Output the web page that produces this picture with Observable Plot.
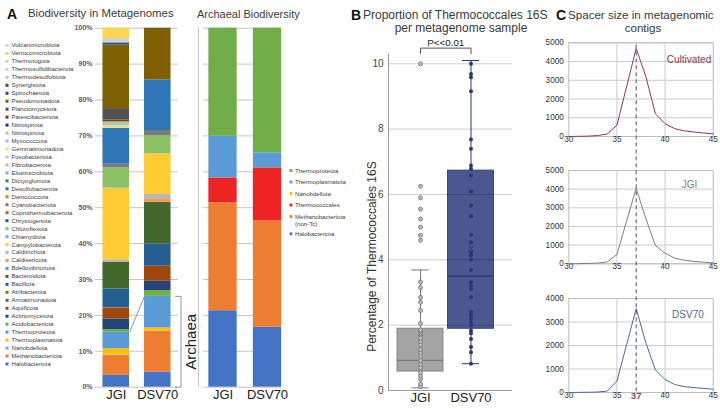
<!DOCTYPE html>
<html>
<head>
<meta charset="utf-8">
<script src="https://cdn.jsdelivr.net/npm/d3@7"></script>
<script src="https://cdn.jsdelivr.net/npm/@observablehq/plot@0.6"></script>
<style>
  body { margin: 0; background: #fff; }
  #fig { position: relative; width: 720px; height: 409px; overflow: hidden; background: #fff;
         font-family: "Liberation Sans", Arial, sans-serif; }
  #fig > * { position: absolute; }
  .ttl { color: #3a3a3a; white-space: nowrap; line-height: 1; }
  .tag { font-weight: bold; font-size: 14px; color: #111; line-height: 1; }
</style>
</head>
<body>
<div id="fig"></div>
<script>
// ---------------- data ----------------
const samples = ["JGI", "DSV70"];

// phyla, bottom-to-top of each stacked column
const phyla = [
  "Halobacteriota", "Methanobacteriota", "Nanobdellota", "Thermoplasmatota", "Thermoproteota",
  "Acidobacteriota", "Actinomycetota", "Aquificota", "Armatimonadota", "Atribacterota",
  "Bacillota", "Bacteroidota", "Bdellovibrionota", "Caldisericota", "Calditrichota",
  "Campylobacterota", "Chlamydiota", "Chloroflexota", "Chrysiogenota", "Coprothermobacterota",
  "Cyanobacteriota", "Deinococcota", "Desulfobacterota", "Dictyoglomota", "Elusimicrobiota",
  "Fibrobacterota", "Fusobacteriota", "Gemmatimonadota", "Myxococcota", "Nitrospinota",
  "Nitrospirota", "Patescibacteriota", "Planctomycetota", "Pseudomonadota", "Spirochaetota",
  "Synergistota", "Thermodesulfobiota", "Thermosulfidibacterota", "Thermotogota", "Verrucomicrobiota",
  "Vulcanimicrobiota"
];
// the first five phyla are archaeal
const archaealPhylumCount = 5;

// relative abundance (%) per phylum, same order as phyla
const jgiShares = [
  3.3, 5.5, 0.2, 1.7, 4.6,
  0.7, 3.0, 3.0, 0.1, 0.1,
  5.2, 7.4, 0.1, 0.1, 0.5,
  19.9, 0.1, 5.6, 0, 0,
  1.0, 0, 10.0, 0, 0,
  0, 0, 0.7, 0.6, 0.5,
  0, 0.5, 3.2, 17.7, 0.6,
  0, 0, 0, 1.2, 2.9,
  0
];
const dsvShares = [
  4.2, 11.3, 0.1, 0.9, 8.8,
  1.6, 2.6, 4.2, 0, 0,
  6.2, 11.6, 0, 1.0, 1.2,
  11.3, 0, 5.1, 0, 0,
  1.4, 0, 14.1, 0, 0,
  0, 0, 0, 0, 0,
  0, 0, 0, 14.4, 0,
  0, 0, 0, 0, 0,
  0
];
const shareTicks = [0, 10, 20, 30, 40, 50, 60, 70, 80, 90, 100];

// archaeal groups, bottom-to-top
const archaeaGroups = ["Halobacteriota", "Methanobacteriota (non-Tc)", "Thermococcales",
  "Nanobdellota", "Thermoplasmatota", "Thermoproteota"];
const jgiArchaea = [21.3, 30.1, 6.9, 0, 11.6, 30.1];
const dsvArchaea = [16.7, 29.6, 14.8, 0, 4.2, 34.7];

// Thermococcales 16S share (%) per metagenome sample
const jgiPercent = [0.12, 0.2, 0.35, 0.45, 0.55, 0.7, 0.8, 0.92, 1.05, 1.15, 1.25, 1.4, 1.5, 1.6,
  1.75, 1.85, 2.05, 2.45, 2.7, 2.85, 3.15, 3.32, 4.6, 4.75, 5.0, 5.25, 5.55, 5.9, 6.25, 10.0];
const dsvPercent = [0.82, 1.17, 1.33, 1.58, 1.75, 1.84, 1.99, 2.07, 2.19, 2.3, 2.4, 2.86, 3.11,
  3.21, 3.31, 3.69, 4.0, 4.13, 4.23, 4.54, 4.77, 5.33, 5.66, 6.09, 6.58, 6.79, 6.89, 7.4, 7.68,
  9.16, 9.59, 9.69, 10.0];
// box summaries (JGI, DSV70)
const boxLow = [0.08, 0.82];
const boxQ1 = [0.58, 1.89];
const boxMedian = [0.92, 3.5];
const boxQ3 = [1.89, 6.73];
const boxHigh = [3.69, 10.1];
const boxMean = [1.75, 4.35];
const percentTicks = [0, 2, 4, 6, 8, 10];
const significance = "P<<0.01";

// CRISPR spacer length distribution
const spacerSizes = [30, 31, 32, 33, 34, 35, 36, 37, 38, 39, 40, 41, 42, 43, 44, 45];
const cultivatedCounts = [0, 10, 20, 50, 140, 600, 2650, 4700, 3200, 1210, 680, 420, 300, 240, 190, 140];
const jgiCounts = [0, 10, 20, 40, 100, 500, 2280, 4050, 2420, 980, 570, 300, 190, 130, 85, 45];
const dsvCounts = [0, 5, 10, 20, 60, 480, 2030, 3570, 2120, 960, 550, 340, 250, 210, 175, 140];
const spacerTicks = [30, 35, 40, 45];
const countTicks5k = [0, 1000, 2000, 3000, 4000, 5000];
const countTicks4k = [0, 1000, 2000, 3000, 4000];
const peakSpacer = 37;

// ---------------- styles ----------------
const phylumColors = [
  "#4472C4", "#ED7D31", "#A5A5A5", "#FFC000", "#5B9BD5",
  "#70AD47", "#264478", "#9E480E", "#636363", "#997300",
  "#255E91", "#43682B", "#698ED0", "#F1975A", "#B7B7B7",
  "#FFCD33", "#7CAFDD", "#8CC168", "#2F5597", "#C55A11",
  "#7B7B7B", "#BF9000", "#2E75B6", "#548235", "#8FAADC",
  "#F4B183", "#C9C9C9", "#FFD966", "#9DC3E6", "#A9D18E",
  "#203864", "#843C0C", "#525252", "#7F6000", "#1F4E79",
  "#385723", "#B4C7E7", "#F8CBAD", "#D0D0D0", "#FFD54F",
  "#BDD7EE"
];
const archaeaColors = ["#4472C4", "#ED7D31", "#EE2424", "#FFC000", "#5B9BD5", "#70AD47"];
const font = "'Liberation Sans', Arial, sans-serif";
const baseStyle = {fontFamily: font, background: "transparent", overflow: "visible"};

const fig = document.getElementById("fig");
function place(el, left, top) {
  el.style.position = "absolute";
  el.style.left = left + "px";
  el.style.top = top + "px";
  fig.appendChild(el);
  return el;
}
function label(text, cls, left, top, size, extra = "") {
  const d = document.createElement("div");
  d.className = cls;
  d.textContent = text;
  d.setAttribute("style", `left:${left}px;top:${top}px;font-size:${size}px;${extra}`);
  fig.appendChild(d);
  return d;
}

// stacked rows from a list of shares
function stackRows(sharesBySample, names) {
  return sharesBySample.flatMap((shares, i) => {
    const tops = d3.cumsum(shares);
    return names.map((name, j) => ({sample: samples[i], i, name, y1: tops[j] - shares[j], y2: tops[j]}));
  }).filter(d => d.y2 > d.y1);
}

// ---------------- panel A: phylum legend ----------------
place(Plot.plot({
  width: 92, height: 409, margin: 0, style: baseStyle,
  x: {domain: [0, 1], range: [6.5, 92], axis: null},
  y: {type: "point", domain: phyla.slice().reverse(), range: [41, 367.5], axis: null},
  color: {type: "ordinal", domain: phyla, range: phylumColors},
  marks: [
    Plot.dot(phyla, {x: () => 0, y: d => d, fill: d => d, symbol: "square", r: 1.7}),
    Plot.text(phyla, {x: () => 0, y: d => d, text: d => d, dx: 4.5, textAnchor: "start",
      fontSize: 6.1, fill: "#3c3c3c"})
  ]
}), 0, 0);

// ---------------- panel A: stacked columns ----------------
const phylaRows = stackRows([jgiShares, dsvShares], phyla);
const archaeaTops = [jgiShares, dsvShares].map(s => d3.sum(s.slice(0, archaealPhylumCount)));
place(Plot.plot({
  width: 140, height: 409, style: baseStyle,
  marginLeft: 40, marginRight: 17, marginTop: 27.7, marginBottom: 22.3,
  x: {domain: [0, 2], axis: null},
  y: {domain: [0, 100], axis: null},
  color: {type: "ordinal", domain: phyla, range: phylumColors},
  marks: [
    Plot.ruleY(shareTicks, {stroke: "#c6c6c6"}),
    Plot.text(shareTicks, {frameAnchor: "left", y: d => d, text: d => d + "%", textAnchor: "end",
      dx: -3, fontSize: 7, fontWeight: "bold", fill: "#5a5a5a"}),
    Plot.rect(phylaRows, {x1: d => d.i + 0.18, x2: d => d.i + 0.82, y1: "y1", y2: "y2", fill: "name"}),
    // archaeal fraction: connector and bracket
    Plot.link([archaeaTops], {x1: 0.82, x2: 1.18, y1: d => d[0], y2: d => d[1], stroke: "#8a96a8", strokeWidth: 1}),
    Plot.line([[1.93, archaeaTops[1]], [2.06, archaeaTops[1]], [2.06, 0], [1.93, 0]],
      {x: d => d[0], y: d => d[1], stroke: "#8a96a8", strokeWidth: 1}),
    Plot.text(["Archaea"], {x: 2.06, y: archaeaTops[1] / 2, rotate: -90, dx: 10.5, fontSize: 15, fill: "#222"}),
    Plot.text(samples, {x: (d, i) => i + 0.5, frameAnchor: "bottom", dy: 12, fontSize: 13, fill: "#222"})
  ]
}), 55, 0);

// ---------------- panel A: archaeal columns ----------------
const archaeaRows = stackRows([jgiArchaea, dsvArchaea], archaeaGroups);
place(Plot.plot({
  width: 100, height: 409, style: baseStyle,
  marginLeft: 8, marginRight: 1, marginTop: 27.7, marginBottom: 22.3,
  x: {domain: [0, 2], range: [10.25, 99.25], axis: null},
  y: {domain: [0, 100], range: [386.7, 27.7], axis: null},
  color: {type: "ordinal", domain: archaeaGroups, range: archaeaColors},
  marks: [
    Plot.ruleY(shareTicks, {x1: 0.06, x2: 1.815, stroke: "#c6c6c6"}),
    Plot.ruleX([-0.05], {y1: 0, y2: 100, stroke: "#c6c6c6"}),
    Plot.rect(archaeaRows, {x1: d => d.i + 0.182, x2: d => d.i + 0.818, y1: "y1", y2: "y2", fill: "name"}),
    Plot.text(samples, {x: (d, i) => i + 0.5, frameAnchor: "bottom", dy: 12, fontSize: 13, fill: "#222"})
  ]
}), 190, 0);

// archaeal legend (top entry first)
const archLegend = archaeaGroups.slice().reverse();
let row = 0;
const archLegendRows = archLegend.map(name => {
  const lines = name.replace(" (", "\n(").split("\n");
  const r = {name, text: lines.join("\n"), row};
  row += 1 + 0.5 * (lines.length - 1);
  return r;
});
place(Plot.plot({
  width: 80, height: 85, margin: 0, style: baseStyle,
  x: {domain: [0, 1], range: [5.5, 80], axis: null},
  y: {domain: [0, 5.5], range: [10, 73.3], axis: null},
  color: {type: "ordinal", domain: archaeaGroups, range: archaeaColors},
  marks: [
    Plot.dot(archLegendRows, {x: () => 0, y: "row", fill: "name", symbol: "square", r: 1.6}),
    Plot.text(archLegendRows, {x: () => 0, y: "row", text: "text", dx: 4, dy: -3.6, lineAnchor: "top",
      lineHeight: 1.3, textAnchor: "start", fontSize: 6.1, fill: "#3c3c3c"})
  ]
}), 285, 160);

// ---------------- panel B: box plots ----------------
const boxRows = samples.map((s, i) => ({sample: s, i, low: boxLow[i], q1: boxQ1[i], median: boxMedian[i],
  q3: boxQ3[i], high: boxHigh[i], mean: boxMean[i]}));
const boxFill = ["#a4a4a4", "#4a5891"];
const boxStroke = ["#858585", "#38457e"];
const pointStroke = ["#7a7a7a", "#2b3674"];
place(Plot.plot({
  width: 170, height: 409, style: baseStyle,
  marginLeft: 38, marginRight: 8, marginTop: 53.5, marginBottom: 19,
  x: {domain: [0, 2], range: [44.75, 145.75], axis: null},
  y: {domain: [0, 10.3], range: [390, 53.5], axis: null},
  marks: [
    Plot.ruleX(boxRows, {x: d => d.i + 0.5, y1: "low", y2: "high", stroke: d => pointStroke[d.i], strokeWidth: 1}),
    Plot.rect(boxRows, {x1: d => d.i + 0.045, x2: d => d.i + 0.955, y1: "q1", y2: "q3",
      fill: d => boxFill[d.i], stroke: d => boxStroke[d.i], strokeWidth: 1}),
    Plot.ruleY(boxRows, {x1: d => d.i + 0.045, x2: d => d.i + 0.955, y: "median", stroke: d => pointStroke[d.i], strokeWidth: 1.2}),
    Plot.ruleY(percentTicks.filter(t => t > 0), {stroke: "#000", strokeOpacity: 0.2}),
    Plot.ruleY([0], {stroke: "#9a9a9a"}),
    Plot.ruleX([-0.134], {y1: 0, y2: 10.3, stroke: "#9a9a9a"}),
    Plot.text(percentTicks, {frameAnchor: "left", y: d => d, textAnchor: "end", dx: -5, fontSize: 10, fill: "#444"}),
    Plot.ruleY(boxRows, {x1: d => d.i + 0.33, x2: d => d.i + 0.67, y: "high", stroke: d => pointStroke[d.i]}),
    Plot.ruleY(boxRows, {x1: d => d.i + 0.33, x2: d => d.i + 0.67, y: "low", stroke: d => pointStroke[d.i]}),
    Plot.dot(jgiPercent, {x: 0.5, y: d => d, r: 2, fill: "#bdbdbd", stroke: pointStroke[0], strokeWidth: 0.9}),
    Plot.dot(dsvPercent, {x: 1.5, y: d => d, r: 2, fill: pointStroke[1]}),
    Plot.dot(boxRows, {x: d => d.i + 0.5, y: "mean", symbol: "times", r: 2.6, stroke: d => pointStroke[d.i], strokeWidth: 1}),
    // significance bracket
    Plot.line([[0.5, 10.31], [0.5, 10.48], [1.5, 10.48], [1.5, 10.31]], {x: d => d[0], y: d => d[1], stroke: "#555", strokeWidth: 1}),
    Plot.text([significance], {x: 1, y: 10.63, fontSize: 9.8, fill: "#222"}),
    // axis title, placed left of the tick labels
    Plot.text(["Percentage of Thermococcales 16S"], {x: -0.45, y: 4.1, rotate: -90, fontSize: 12, fill: "#333"}),
    Plot.text(samples, {x: (d, i) => i + 0.5, frameAnchor: "bottom", dy: 11, fontSize: 13, fill: "#222"})
  ]
}), 350, 0);

// ---------------- panel C: spacer size distributions ----------------
function spacerPanel(counts, yMax, yTicks, name, color, labelDx, labelDy, top, marginTop, marginBottom) {
  const rows = spacerSizes.map((s, i) => ({size: s, count: counts[i]}));
  return place(Plot.plot({
    width: 200, height: 118, style: baseStyle,
    marginLeft: 48.3, marginRight: 7.3, marginTop, marginBottom,
    x: {domain: [30, 45], axis: null},
    y: {domain: [0, yMax], axis: null},
    marks: [
      Plot.ruleY(yTicks, {stroke: "#cbcbcb"}),
      Plot.ruleX([35, 40], {stroke: "#cbcbcb"}),
      Plot.frame({stroke: "#bdbdbd"}),
      Plot.text(yTicks, {frameAnchor: "left", y: d => d, text: d => String(d), textAnchor: "end", dx: -5, fontSize: 8.2, fill: "#333"}),
      Plot.text(spacerTicks, {x: d => d, text: d => String(d), frameAnchor: "bottom", dy: 5, fontSize: 8.2, fill: "#333"}),
      Plot.line(rows, {x: "size", y: "count", stroke: color, strokeWidth: 1}),
      Plot.text([name], {frameAnchor: "top-right", textAnchor: "end", dx: labelDx, dy: labelDy, fontSize: 10, fill: color})
    ]
  }), 520, top);
}
spacerPanel(cultivatedCounts, 5000, countTicks5k, "Cultivated", "#8a3a4c", -2, 12.7, 30, 12.3, 12);
spacerPanel(jgiCounts, 5000, countTicks5k, "JGI", "#808080", -16, 10.8, 158, 12, 12.7);
spacerPanel(dsvCounts, 4000, countTicks4k, "DSV70", "#4f6a8f", -9.4, 12.8, 285.7, 12, 12);

// dominant spacer length across all three distributions
place(Plot.plot({
  width: 200, height: 409, style: baseStyle,
  marginLeft: 48.3, marginRight: 7.3, marginTop: 44.3, marginBottom: 17,
  x: {domain: [30, 45], axis: null},
  y: {axis: null},
  marks: [
    Plot.ruleX([peakSpacer], {stroke: "#5b4b6b", strokeWidth: 1, strokeDasharray: "4,3"}),
    Plot.text([peakSpacer], {x: d => d, text: d => String(d), frameAnchor: "bottom", dy: 6, fontSize: 9.6, fontWeight: "bold", fill: "#8e4466"})
  ]
}), 520, 0);

// ---------------- titles ----------------
label("A", "tag", 7, 6.5, 14);
label("Biodiversity in Metagenomes", "ttl", 28, 7.8, 11.4);
label("Archaeal Biodiversity", "ttl", 197, 8.8, 11);
label("B", "tag", 351, 8.2, 14);
label("Proportion of Thermococcales 16S", "ttl", 363, 8.6, 12);
label("per metagenome sample", "ttl", 461, 22.4, 12, "transform:translateX(-50%);");
label("C", "tag", 556, 8.4, 14);
label("Spacer size in metagenomic", "ttl", 568, 8.6, 11.6);
label("contigs", "ttl", 643, 21.8, 11.6, "transform:translateX(-50%);");
</script>
</body>
</html>
